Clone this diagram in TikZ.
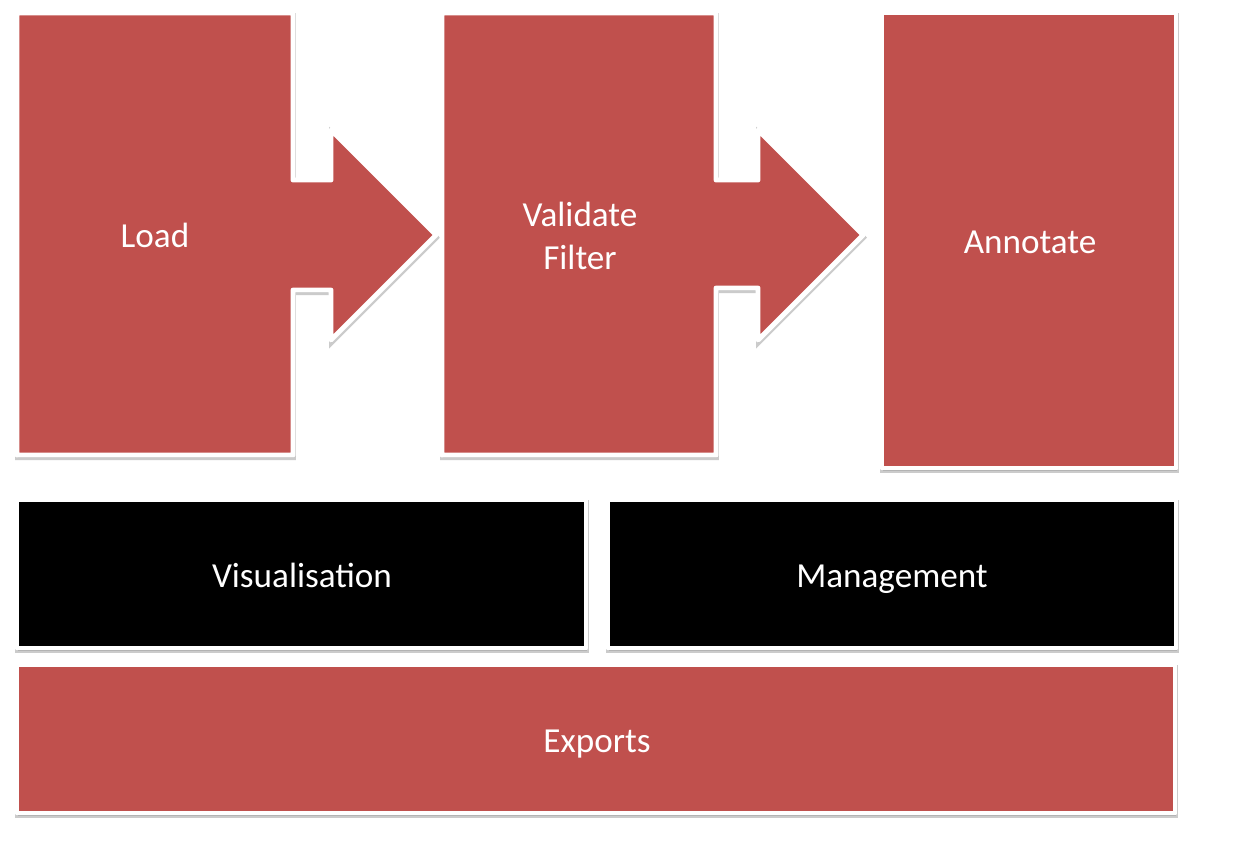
\documentclass[tikz,border=0pt]{standalone}
\usepackage{fontspec}
\setmainfont{Carlito}
\usetikzlibrary{shadows}
\definecolor{RojoBloque}{RGB}{192,80,77}
\definecolor{SombraGris}{RGB}{160,160,160}
\tikzset{
  sombra/.style={drop shadow={shadow xshift=0.3pt, shadow yshift=-1.5pt,
    fill=SombraGris, draw=SombraGris, line width=2.8pt, opacity=0.55}},
  etapa/.style={sombra, draw=white, line width=2.8pt, line join=round, fill=RojoBloque},
  capa/.style={sombra, draw=white, line width=2.8pt, line join=round, fill=black},
  rotulo/.style={text=white, font=\fontsize{20}{24.5}\selectfont, align=center, inner sep=0pt},
}

\begin{document}
\begin{tikzpicture}[x=0.02cm, y=-0.02cm]
    \useasboundingbox (0,0) rectangle (1257,846);
    % ---- etapas con flecha ----
    \path[etapa] (17,13) -- (293,13) -- (293,180) -- (331,180) -- (331,130) -- (436,235)
      -- (331,340) -- (331,290) -- (293,290) -- (293,455) -- (17,455) -- cycle;
    \path[etapa] (442,13) -- (716,13) -- (716,180) -- (758,180) -- (758,130) -- (863,235)
      -- (758,340) -- (758,288) -- (716,288) -- (716,455) -- (442,455) -- cycle;
    \path[etapa] (882,13) rectangle (1176,468);
    \node[rotulo, anchor=base] (load) at (155,247) {Load};
    \node[rotulo] (validar) at (580,236) {Validate\\Filter};
    \node[rotulo, anchor=base] (anotar) at (1030,253) {Annotate};
    % ---- capas inferiores ----
    \path[capa] (17,500) rectangle (586,648);
    \path[capa] (608,500) rectangle (1176,648);
    \path[etapa] (17,665) rectangle (1175,813);
    \node[rotulo, anchor=base] (visual) at (302,587) {Visualisation};
    \node[rotulo, anchor=base] (gestion) at (892,587) {Management};
    \node[rotulo, anchor=base] (exportar) at (597,752) {Exports};
\end{tikzpicture}
\end{document}
